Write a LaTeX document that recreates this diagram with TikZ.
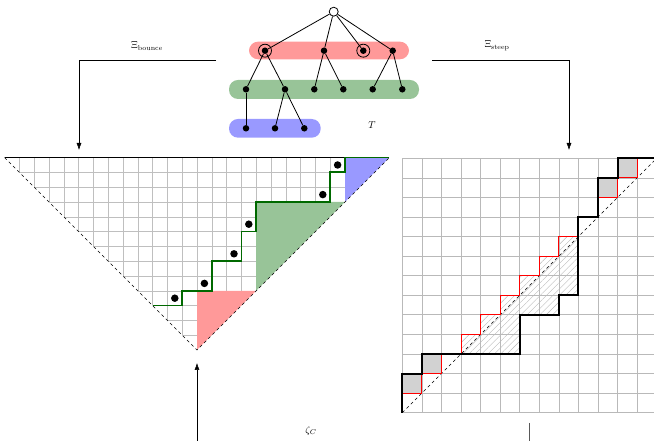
\documentclass[tikz,border=0pt]{standalone}
\usepackage{amsmath}
\usepackage{amssymb}
\usepackage{tikz}
\usetikzlibrary{arrows.meta, patterns.meta, positioning}

\definecolor{pathgreen}{RGB}{0,105,0}
\definecolor{fillgreen}{RGB}{152,196,152}

\begin{document}
\begin{tikzpicture}[
      x=1pt, y=1pt,
      vtx/.style={circle, fill=black, inner sep=0pt, minimum size=6.5pt},
      rootvtx/.style={circle, draw, thick, fill=white, inner sep=0pt, minimum size=9pt},
      ring/.style={circle, draw, thick, inner sep=0pt, minimum size=13pt},
      band/.style={rounded corners=9pt},
      gridline/.style={gray!50, line width=0.4pt},
      bgridline/.style={gray!55, line width=0.7pt},
      celldot/.style={circle, fill=black, inner sep=0pt, minimum size=7.5pt},
      diag/.style={dash pattern=on 3pt off 3pt, line width=0.6pt},
      arrow/.style={-{Latex[length=7pt, width=5pt]}, line width=0.5pt}
    ]
    \useasboundingbox (0,0) rectangle (654,441);

    % the tree T and its levels
    \fill[band, red!40] (249,381.7) rectangle (409,399.3);
    \fill[band, fillgreen] (229,342) rectangle (419,361);
    \fill[band, blue!40] (229,303.3) rectangle (320.7,322);

    \node[rootvtx] (root) at (333.7,429.3) {};
    \node[vtx] (a) at (265,390.3) {};
    \node[vtx] (b) at (324,390.3) {};
    \node[vtx] (c) at (363.3,390.3) {};
    \node[vtx] (d) at (392.7,390.3) {};
    \node[ring] at (a) {};
    \node[ring] at (c) {};
    \node[vtx] (a1) at (246,351.7) {};
    \node[vtx] (a2) at (285,351.7) {};
    \node[vtx] (b1) at (314.3,351.7) {};
    \node[vtx] (b2) at (343.3,351.7) {};
    \node[vtx] (d1) at (372.7,351.7) {};
    \node[vtx] (d2) at (402.3,351.7) {};
    \node[vtx] (a11) at (246,312.7) {};
    \node[vtx] (a21) at (275,312.7) {};
    \node[vtx] (a22) at (304.3,312.7) {};
    \node (tname) at (372,316) {$T$};
    \draw[thick] (root) -- (a);
    \draw[thick] (root) -- (b);
    \draw[thick] (root) -- (c);
    \draw[thick] (root) -- (d);
    \draw[thick] (a) -- (a1);
    \draw[thick] (a) -- (a2);
    \draw[thick] (b) -- (b1);
    \draw[thick] (b) -- (b2);
    \draw[thick] (d) -- (d1);
    \draw[thick] (d) -- (d2);
    \draw[thick] (a1) -- (a11);
    \draw[thick] (a2) -- (a21);
    \draw[thick] (a2) -- (a22);

    % maps out of T
    \coordinate (bstart) at (216,381);
    \coordinate (bend) at (79,291);
    \coordinate (sstart) at (432,381);
    \coordinate (send) at (569,291);
    \draw[arrow] (bstart) -| (bend);
    \draw[arrow] (sstart) -| (send);
    \node (bounce) at (147,395) {$\Xi_{\mathrm{bounce}}$};
    \node (steep) at (497,395) {$\Xi_{\mathrm{steep}}$};

    % left: triangle with the bounce path
    \begin{scope}[shift={(197,91)}, x=14.8pt, y=14.8pt]
      \begin{scope}
        \clip (-13,13) -- (0,0) -- (13,13) -- cycle;
        \draw[gridline, step=1] (-13,0) grid (13,13);
      \end{scope}
      \fill[red!40] (0,0) -- (0,4) -- (4,4) -- cycle;
      \fill[fillgreen] (4,4) -- (4,10) -- (10,10) -- cycle;
      \fill[blue!40] (10,10) -- (10,13) -- (13,13) -- cycle;
      \draw[diag] (-13,13) -- (0,0) -- (13,13);
      \draw[line width=0.7pt] (-13,13) -- (13,13);
      \draw[pathgreen, line width=1.8pt, line join=miter]
        (-3,3) -- (-1,3) -- (-1,4) -- (1,4) -- (1,6) -- (3,6) -- (3,8)
        -- (4,8) -- (4,10) -- (9,10) -- (9,12) -- (10,12) -- (10,13) -- (13,13);
      \foreach \p [count=\k] in {(-1.5,3.5), (0.5,4.5), (2.5,6.5), (3.5,8.5), (8.5,10.5), (9.5,12.5)}
        \node[celldot] (dot\k) at \p {};
    \end{scope}

    % right: grid with the steep path
    \begin{scope}[shift={(402.3,28.3)}, x=19.57pt, y=19.57pt]
      \draw[bgridline, step=1] (0,0) grid (13,13);
      \fill[gray!35] (0,1) rectangle (1,2);
      \fill[gray!35] (1,2) rectangle (2,3);
      \fill[gray!35] (10,11) rectangle (11,12);
      \fill[gray!35] (11,12) rectangle (12,13);
      \fill[pattern={Lines[angle=45, distance=4.5pt, line width=0.4pt]}, pattern color=gray!55]
        (3,3) -- (6,3) -- (6,5) -- (8,5) -- (8,6) -- (9,6) -- (9,9) -- (8,9) -- (8,8)
        -- (7,8) -- (7,7) -- (6,7) -- (6,6) -- (5,6) -- (5,5) -- (4,5) -- (4,4) -- (3,4) -- cycle;
      \draw[diag] (0,0) -- (13,13);
      \draw[red, line width=0.9pt]
        (0,0) -- (0,1) -- (1,1) -- (1,2) -- (2,2) -- (2,3) -- (3,3) -- (3,4) -- (4,4)
        -- (4,5) -- (5,5) -- (5,6) -- (6,6) -- (6,7) -- (7,7) -- (7,8) -- (8,8) -- (8,9)
        -- (9,9) -- (9,10) -- (10,10) -- (10,11) -- (11,11) -- (11,12) -- (12,12)
        -- (12,13) -- (13,13);
      \draw[line width=2pt, line join=miter] (0,0) -- (0,2) -- (1,2) -- (1,3) -- (6,3)
        -- (6,5) -- (8,5) -- (8,6) -- (9,6) -- (9,10) -- (10,10) -- (10,12) -- (11,12)
        -- (11,13) -- (13,13);
    \end{scope}

    % bottom
    \coordinate (zfoot) at (197,0);
    \coordinate (ztip) at (197,78);
    \draw[arrow] (zfoot) -- (ztip);
    \node (zeta) at (311,10) {$\zeta_C$};
    \coordinate (rtop) at (529,18);
    \coordinate (rfoot) at (529,0);
    \draw[gray!70!black, line width=0.8pt] (rtop) -- (rfoot);
\end{tikzpicture}
\end{document}
